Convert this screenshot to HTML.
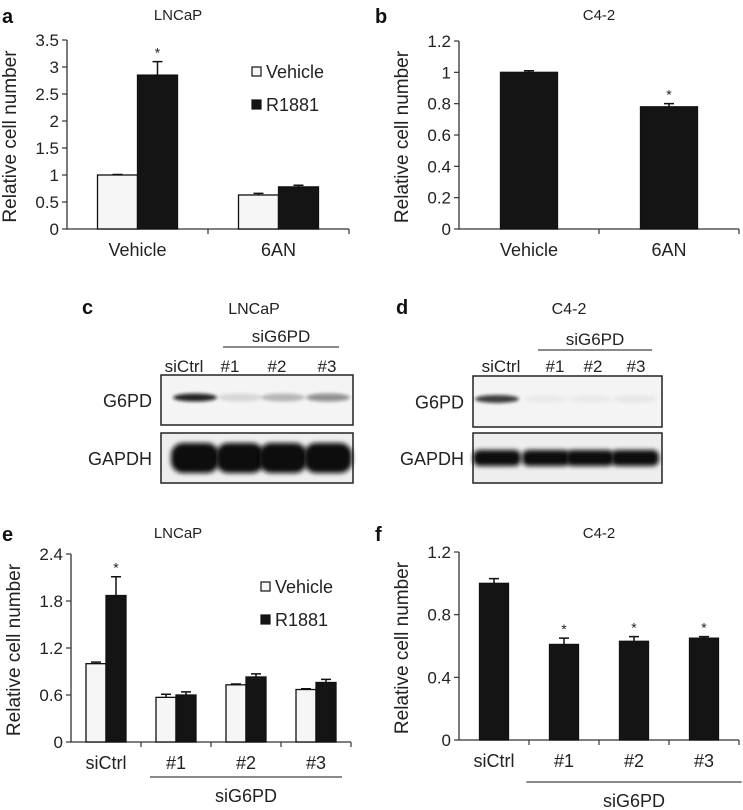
<!DOCTYPE html>
<html><head><meta charset="utf-8"><style>
body{margin:0;background:#fff;}
svg{display:block;font-family:"Liberation Sans",sans-serif;}
</style></head><body>
<svg id="fig" width="743" height="810" viewBox="0 0 743 810">
<defs><filter id="blur" x="-20%" y="-50%" width="140%" height="200%"><feGaussianBlur stdDeviation="2.5"/></filter>
<filter id="blur2" x="-20%" y="-50%" width="140%" height="200%"><feGaussianBlur stdDeviation="1.5"/></filter></defs>
<g id="blots"></g>
</svg>
<script>
// Panel a
const aCats=["Vehicle","6AN"];
const aVeh=[1.0,0.63]; const aVehErr=[0.01,0.03];
const aR=[2.85,0.78]; const aRErr=[0.25,0.03];
const aTicks=["0","0.5","1","1.5","2","2.5","3","3.5"];
// Panel b
const bCats=["Vehicle","6AN"];
const bVals=[1.0,0.78]; const bErr=[0.01,0.02];
const bTicks=["0","0.2","0.4","0.6","0.8","1","1.2"];
// Panel e
const eCats=["siCtrl","#1","#2","#3"];
const eVeh=[1.0,0.57,0.73,0.67]; const eVehErr=[0.02,0.04,0.01,0.01];
const eR=[1.87,0.6,0.83,0.76]; const eRErr=[0.24,0.04,0.04,0.04];
const eTicks=["0","0.6","1.2","1.8","2.4"];
// Panel f
const fCats=["siCtrl","#1","#2","#3"];
const fVals=[1.0,0.61,0.63,0.65]; const fErr=[0.03,0.04,0.03,0.01];
const fTicks=["0","0.4","0.8","1.2"];

const NS="http://www.w3.org/2000/svg";
const svg=document.getElementById('fig');
function mk(tag,attrs,parent,text){const e=document.createElementNS(NS,tag);for(const k in attrs)e.setAttribute(k,attrs[k]);if(text!==undefined)e.textContent=text;(parent||svg).appendChild(e);return e;}

function chart(o){
  const g=mk('g',{});
  
  
  const maxV=parseFloat(o.ticks[o.ticks.length-1]);
  const y=v=>o.y0-(v/maxV)*(o.y0-o.yTop);
  const gw=(o.x1-o.x0)/o.cats.length;
  const ax=mk('path',{d:`M${o.x0} ${o.yTop} V${o.y0} H${o.x1}`,stroke:'#333',fill:'none','stroke-width':1.3},g);
  
  
  o.ticks.forEach(t=>{const v=parseFloat(t),yy=y(v);
    mk('line',{x1:o.x0-5,x2:o.x0,y1:yy,y2:yy,stroke:'#333','stroke-width':1.2},g);
    const tl=mk('text',{x:o.x0-8,y:yy+6,'text-anchor':'end','font-size':17,fill:'#222'},g,t);
    
    
  });
  for(let i=1;i<=o.cats.length;i++){const xx=o.x0+gw*i;mk('line',{x1:xx,x2:xx,y1:o.y0,y2:o.y0+5,stroke:'#333','stroke-width':1.2},g);}
  const yt=mk('text',{x:0,y:0,transform:`translate(${o.x0-51},${(o.y0+o.yTop)/2+2}) rotate(-90)`,'text-anchor':'middle','font-size':19,fill:'#222'},g,'Relative cell number');
  
  
  o.cats.forEach((c,i)=>{
    const cx=o.x0+gw*(i+0.5);
    const cl=mk('text',{x:cx,y:o.y0+27,'text-anchor':'middle','font-size':18,fill:'#222'},g,c);
    
    
    o.series.forEach((s,j)=>{
      const n=o.series.length;const bx=cx-o.bw*n/2+o.bw*j;const v=s.vals[i];
      const r=mk('rect',{x:bx,y:y(v),width:o.bw,height:o.y0-y(v),fill:s.fill,stroke:'#111','stroke-width':1.3},g);
      
      
      const ex=bx+o.bw/2, et=y(v+s.err[i]);
      mk('path',{d:`M${ex} ${y(v)} V${et} M${ex-5} ${et} H${ex+5}`,stroke:'#111','stroke-width':1.5,fill:'none'},g);
      if(s.star&&s.star[i]){const st=mk('text',{x:ex,y:et-4,'text-anchor':'middle','font-size':14,fill:'#222'},g,'*');
        
        }
    });
  });
  const ttl=mk('text',{x:o.tx,y:o.ty,'text-anchor':'middle','font-size':15,fill:'#222'},g,o.title);
  
  
  const lb=mk('text',{x:o.lx,y:o.ty+3,'font-size':20,'font-weight':'bold',fill:'#111'},g,o.letter);
  
  
  if(o.legend){o.series.forEach((s,j)=>{const ly=o.legend[1]+j*33;
    mk('rect',{x:o.legend[0],y:ly-5,width:9,height:9,fill:s.fill,stroke:'#111','stroke-width':1.2},g);
    const lt=mk('text',{x:o.legend[0]+14,y:ly+6,'font-size':18,fill:'#222'},g,s.label);
    
    });}
  if(o.under){
    const x1=o.x0+gw*1.5-o.bw*1.3, x2=o.x0+gw*(o.cats.length-0.5)+o.bw*1.3;
    mk('line',{x1:x1,x2:x2,y1:o.under,y2:o.under,stroke:'#444','stroke-width':1.3},g);
    const ut=mk('text',{x:(x1+x2)/2,y:o.under+25,'text-anchor':'middle','font-size':18,fill:'#222'},g,'siG6PD');
    
    
  }
}
chart({name:'chart-a',letter:'a',lx:2,title:'LNCaP',tx:178,ty:20,x0:67,x1:349,y0:229,yTop:40,bw:40,cats:aCats,ticks:aTicks,legend:[252,72],
  series:[{key:'vehicle',label:'Vehicle',fill:'#f6f6f6',vals:aVeh,err:aVehErr},{key:'r1881',label:'R1881',fill:'#141414',vals:aR,err:aRErr,star:[1,0]}]});
chart({name:'chart-b',letter:'b',lx:375,title:'C4-2',tx:599,ty:20,x0:459,x1:739,y0:229,yTop:41,bw:57,cats:bCats,ticks:bTicks,
  series:[{key:'value',label:'',fill:'#141414',vals:bVals,err:bErr,star:[0,1]}]});
chart({name:'chart-e',letter:'e',lx:2,title:'LNCaP',tx:178,ty:538,x0:71,x1:351,y0:742,yTop:554,bw:20,cats:eCats,ticks:eTicks,legend:[261,587],under:777,
  series:[{key:'vehicle',label:'Vehicle',fill:'#f6f6f6',vals:eVeh,err:eVehErr},{key:'r1881',label:'R1881',fill:'#141414',vals:eR,err:eRErr,star:[1,0,0,0]}]});
chart({name:'chart-f',letter:'f',lx:375,title:'C4-2',tx:599,ty:538,x0:459,x1:739,y0:740,yTop:552,bw:29,cats:fCats,ticks:fTicks,under:782,
  series:[{key:'value',label:'',fill:'#141414',vals:fVals,err:fErr,star:[0,1,1,1]}]});

// Blots
const blots=document.getElementById('blots');
function blot(o){
  const g=mk('g',{},blots);
  
  
  mk('text',{x:o.lx,y:314,'font-size':20,'font-weight':'bold',fill:'#111'},g,o.letter);
  mk('text',{x:o.tx,y:314,'text-anchor':'middle','font-size':16,fill:'#222'},g,o.title);
  mk('text',{x:(o.ux1+o.ux2)/2,y:o.uy-5,'text-anchor':'middle','font-size':17,fill:'#222'},g,'siG6PD');
  mk('line',{x1:o.ux1,x2:o.ux2,y1:o.uy,y2:o.uy,stroke:'#444','stroke-width':1.3},g);
  o.lanes.forEach((l,i)=>mk('text',{x:o.lx2[i],y:o.laneY,'text-anchor':'middle','font-size':17,fill:'#222'},g,l));
  mk('rect',{x:o.bx1,y:o.by1,width:o.bx2-o.bx1,height:o.bh1,fill:'#f4f4f4',stroke:'#222','stroke-width':1.5},g);
  mk('rect',{x:o.bx1,y:o.by2,width:o.bx2-o.bx1,height:o.bh2,fill:'#eeeeee',stroke:'#222','stroke-width':1.5},g);
  mk('text',{x:o.bx1-9,y:o.by1+o.bh1/2+7,'text-anchor':'end','font-size':18,fill:'#222'},g,'G6PD');
  mk('text',{x:o.bx1-9,y:o.by2+o.bh2/2+7,'text-anchor':'end','font-size':18,fill:'#222'},g,'GAPDH');
  o.g6.forEach((a,i)=>mk('ellipse',{cx:o.bandX[i],cy:o.by1+o.bh1*0.45,rx:o.bandW/2,ry:4,fill:'#111','fill-opacity':a,filter:'url(#blur2)'},g));
  o.bandX.forEach(x=>mk('rect',{x:x-o.bandW/2-2,y:o.by2+o.bh2/2-o.gh,width:o.bandW+4,height:o.gh*2,rx:o.gh*0.8,fill:'#111',filter:'url(#blur)'},g));
}
blot({name:'blot-c',letter:'c',lx:82,title:'LNCaP',tx:254,ux1:223,ux2:339,uy:347,laneY:372,lanes:['siCtrl','#1','#2','#3'],lx2:[184,230,277,327],
  bx1:161,bx2:353,by1:375,bh1:50,by2:433,bh2:50,bandX:[195,240,283,328],bandW:44,gh:15,g6:[0.9,0.12,0.25,0.45]});
blot({name:'blot-d',letter:'d',lx:396,title:'C4-2',tx:569,ux1:538,ux2:652,uy:350,laneY:372,lanes:['siCtrl','#1','#2','#3'],lx2:[501,555,593,636],
  bx1:473,bx2:662,by1:376,bh1:51,by2:433,bh2:50,bandX:[497,546,590,635],bandW:44,gh:8,g6:[0.8,0.04,0.04,0.05]});
</script>
</body></html>
